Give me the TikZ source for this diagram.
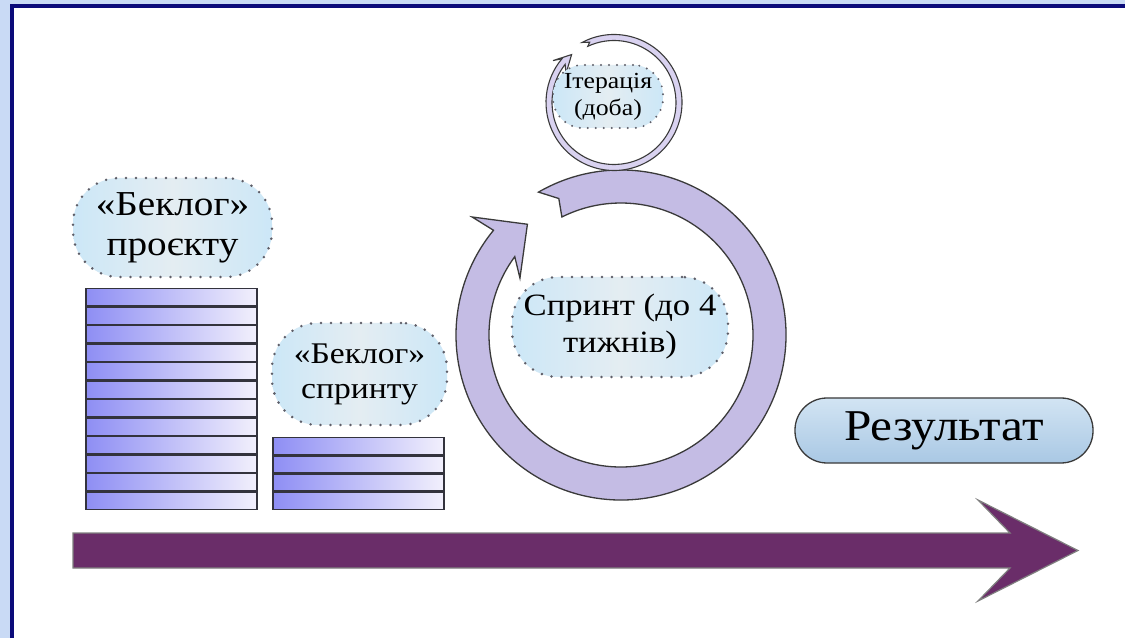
\documentclass[tikz,border=0pt]{standalone}
\usepackage{fontspec}
\setmainfont[FakeStretch=1.12]{Liberation Serif}
\definecolor{framebg}{HTML}{C9DAF5}
\definecolor{framenavy}{HTML}{0B0B7A}
\definecolor{barL}{HTML}{8E8EF4}
\definecolor{barR}{HTML}{F2F0FC}
\definecolor{barline}{HTML}{33333D}
\definecolor{ringfill}{HTML}{C4BCE4}
\definecolor{ringsmall}{HTML}{D9D2F0}
\definecolor{ringline}{HTML}{3A3A3A}
\definecolor{pillblue}{HTML}{CCE7F7}
\definecolor{pillmid}{HTML}{E4EDF2}
\definecolor{dotgray}{HTML}{5E5E68}
\definecolor{resTop}{HTML}{D2E4F3}
\definecolor{resBot}{HTML}{A9C8E4}
\definecolor{timeline}{HTML}{6A2D69}
\tikzset{
  barstyle/.style={left color=barL, right color=barR, draw=barline, line width=1.6pt},
  pill/.style={rectangle, rounded corners=46pt, left color=pillblue, right color=pillblue,
    middle color=pillmid, draw=dotgray, line width=2.8pt, dash pattern=on 0pt off 10pt,
    line cap=round, align=center, inner sep=0pt, text=black},
  bigring/.style={fill=ringfill, draw=ringline, line width=1.3pt, line join=miter},
  smallring/.style={fill=ringsmall, draw=ringline, line width=1.1pt},
  resultbox/.style={rectangle, rounded corners=32pt, top color=resTop, bottom color=resBot,
    draw=ringline, line width=1.3pt, minimum width=298pt, minimum height=65pt,
    font=\fontsize{44}{48}\selectfont, text=black},
  arrowbody/.style={fill=timeline, draw=gray, line width=1.2pt, line join=miter}
}
\begin{document}
\begin{tikzpicture}[x=1pt,y=1pt]
\useasboundingbox (0,0) rectangle (1125,638);
% frame
\fill[framebg] (0,0) rectangle (1125,638);
\fill[white] (12,0) rectangle (1125,632);
\draw[framenavy, line width=3.2pt] (12,0) -- (12,632) -- (1125,632);

% project backlog stack
\foreach \i in {0,...,11} {
  \shadedraw[barstyle] (86,{350-18.5*\i-0.6}) rectangle (257,{350-18.5*(\i+1)+0.6});
}
% sprint backlog stack
\foreach \i in {0,...,3} {
  \shadedraw[barstyle] (273,{201-18.25*\i-0.6}) rectangle (444,{201-18.25*(\i+1)+0.6});
}

% timeline arrow
\filldraw[arrowbody] (73,105) -- (1010,105) -- (978,138) -- (1078,87.5)
  -- (978,37) -- (1010,70) -- (73,70) -- cycle;

% sprint cycle
\begin{scope}[shift={(621,303)}]
\filldraw[bigring] (120:165) arc[start angle=120,end angle=-219.4,radius=165]
  -- (-218.4:190) -- (-229.8:145) -- (-209.4:116) -- (-216.4:132)
  arc[start angle=-216.4,end angle=116.6,radius=132] -- (114.5:150) -- cycle;
\end{scope}

% daily iteration cycle
\begin{scope}[shift={(614,535.5)}]
\filldraw[smallring] (118:68) arc[start angle=118,end angle=-220,radius=68]
  -- (-214.5:74) -- (-228.5:64) -- (-211:56) -- (-218:62)
  arc[start angle=-218,end angle=115,radius=62] -- (112:65) -- cycle;
\end{scope}

% labels
\node[pill, minimum width=199pt, minimum height=99pt, font=\fontsize{35}{40}\selectfont]
  (pbacklog) at (172.5,410.5) {«Беклог»\\проєкту};
\node[pill, minimum width=175pt, minimum height=102pt, font=\fontsize{30}{35}\selectfont]
  (sbacklog) at (359.5,264) {«Беклог»\\спринту};
\node[pill, minimum width=216pt, minimum height=100pt, font=\fontsize{31}{37}\selectfont]
  (sprint) at (620,311) {Спринт (до 4\\тижнів)};
\node[pill, rounded corners=30pt, line width=2.2pt, dash pattern=on 0pt off 8pt,
  minimum width=110pt, minimum height=63pt,
  font=\fontsize{23}{27}\selectfont] (iter) at (608,541.5) {Ітерація\\(доба)};
\node[resultbox] (result) at (944,207.5) {Результат};
\end{tikzpicture}
\end{document}
